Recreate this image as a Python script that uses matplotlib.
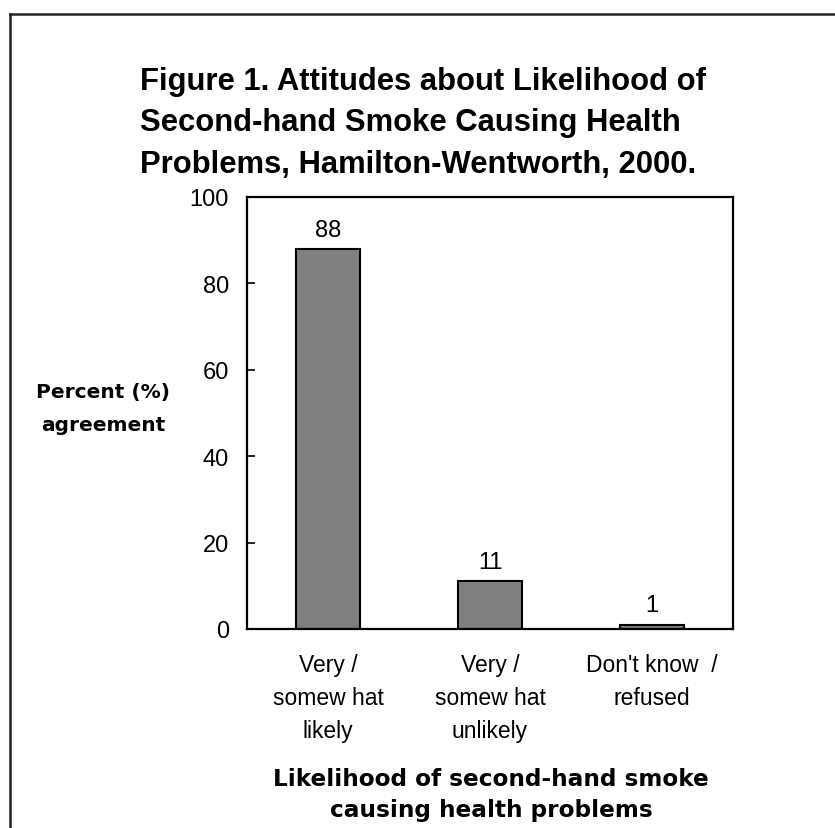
import matplotlib
matplotlib.use("Agg")
import matplotlib.pyplot as plt
from matplotlib.lines import Line2D

categories = ["Very /\nsomew hat\nlikely", "Very /\nsomew hat\nunlikely", "Don't know  /\nrefused"]
values = [88, 11, 1]
yticks = [0, 20, 40, 60, 80, 100]
title = "Figure 1. Attitudes about Likelihood of\nSecond-hand Smoke Causing Health\nProblems, Hamilton-Wentworth, 2000."
ylabel = "Percent (%)\nagreement"
xlabel = "Likelihood of second-hand smoke\ncausing health problems"

W, H = 835, 829
fig = plt.figure(figsize=(W / 100, H / 100), dpi=100)
fig.patch.set_facecolor("white")

def fx(px):
    return px / W

def fy(py):
    return 1 - py / H

ax = fig.add_axes([fx(247), fy(630), fx(733) - fx(247), fy(198) - fy(630)])
x = list(range(len(categories)))
bars = ax.bar(x, values, width=0.40, color="#808080", edgecolor="black", linewidth=1.5, zorder=2)
ax.set_xlim(-0.5, len(categories) - 0.5)
ax.set_ylim(0, 100)
ax.set_yticks(yticks)
ax.set_yticklabels([str(v) for v in yticks], family="Liberation Sans", fontsize=17)
ax.set_xticks(x)
ax.set_xticklabels(categories, family="Liberation Sans", fontsize=16.5, linespacing=1.58)
ax.tick_params(axis="y", direction="in", length=6, width=1.2, pad=13)
ax.tick_params(axis="x", length=0, pad=17)
for s in ax.spines.values():
    s.set_linewidth(1.6)
    s.set_color("black")

for xi, v in zip(x, values):
    ax.annotate(str(v), (xi, v), xytext=(0, 6), textcoords="offset points",
                ha="center", va="bottom", family="Liberation Sans", fontsize=17)

fig.text(fx(140), fy(67), title, ha="left", va="top", family="Liberation Sans",
         fontweight="bold", fontsize=22.3, linespacing=1.5)
fig.text(fx(103), fy(409), ylabel, ha="center", va="center", multialignment="center",
         family="DejaVu Sans", fontweight="bold", fontsize=14.5, linespacing=1.9)
fig.text(fx(491), fy(795), xlabel, ha="center", va="center", multialignment="center",
         family="DejaVu Sans", fontweight="bold", fontsize=16.7, linespacing=1.4)

# outer frame (top and left edges visible)
fig.add_artist(Line2D([fx(10), 1.0], [fy(15), fy(15)], color="#222222", linewidth=1.8))
fig.add_artist(Line2D([fx(10), fx(10)], [fy(15), 0.0], color="#222222", linewidth=1.8))

fig.savefig("out.png", dpi=100)
